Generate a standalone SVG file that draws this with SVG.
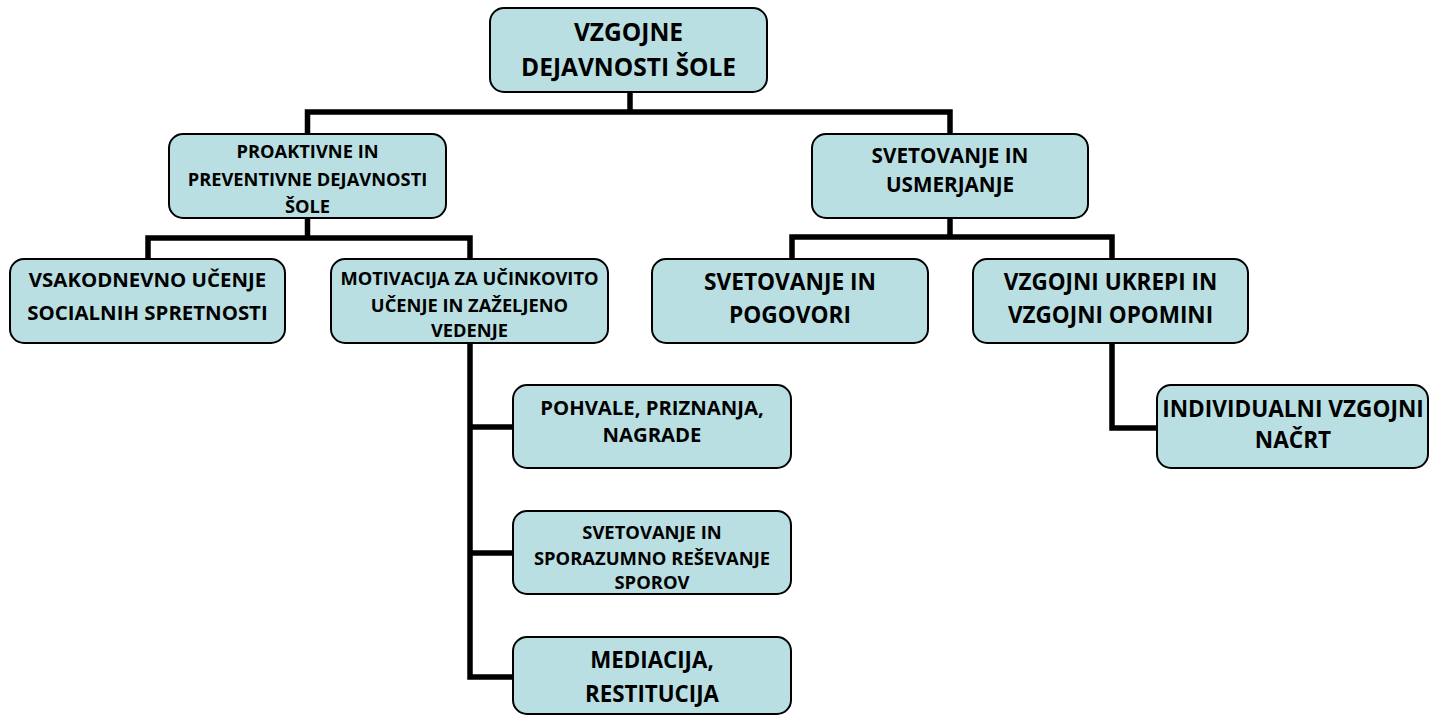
<svg xmlns="http://www.w3.org/2000/svg" width="1429" height="716" viewBox="0 0 1429 716">
<style>
.box{fill:#b9dfe2;stroke:#000;stroke-width:2}
.t{font-family:"Open Sans","Liberation Sans",sans-serif;font-weight:bold;fill:#000;text-anchor:middle}
.c{fill:none;stroke:#000;stroke-width:5.5;stroke-linejoin:miter}
</style>
<rect width="1429" height="716" fill="#fff"/>
<g id="connectors">
<path class="c" d="M630 92 V112"/>
<path class="c" d="M307.5 134 V112 H950 V134"/>
<path class="c" d="M307.5 218 V238"/>
<path class="c" d="M148 259 V238 H470 V259"/>
<path class="c" d="M950 218 V237"/>
<path class="c" d="M792 259 V237 H1112 V259"/>
<path class="c" d="M1112 343 V428 H1157"/>
<path class="c" d="M470 343 V677 H513"/>
<path class="c" d="M470 427 H513"/>
<path class="c" d="M470 553 H513"/>
</g>
<g id="n-root">
<rect class="box" x="490" y="8" width="277" height="84" rx="14"/>
<text class="t" font-size="24.5" x="628.5" y="41">VZGOJNE</text>
<text class="t" font-size="24.5" x="628.5" y="76">DEJAVNOSTI ŠOLE</text>
</g>
<g id="n-proaktivne">
<rect class="box" x="169" y="134" width="277" height="84" rx="14"/>
<text class="t" font-size="18.3" x="307.5" y="158">PROAKTIVNE IN</text>
<text class="t" font-size="18.3" x="307.5" y="186">PREVENTIVNE DEJAVNOSTI</text>
<text class="t" font-size="18.3" x="307.5" y="213">ŠOLE</text>
</g>
<g id="n-svetovanje-usmerjanje">
<rect class="box" x="812" y="134" width="276" height="84" rx="14"/>
<text class="t" font-size="20.7" x="950" y="163">SVETOVANJE IN</text>
<text class="t" font-size="20.7" x="950" y="192">USMERJANJE</text>
</g>
<g id="n-vsakodnevno">
<rect class="box" x="10" y="259" width="275" height="84" rx="14"/>
<text class="t" font-size="20.4" x="147.5" y="287">VSAKODNEVNO UČENJE</text>
<text class="t" font-size="20.4" x="147.5" y="320">SOCIALNIH SPRETNOSTI</text>
</g>
<g id="n-motivacija">
<rect class="box" x="331" y="259" width="277" height="84" rx="14"/>
<text class="t" font-size="18.3" x="469.5" y="285">MOTIVACIJA ZA UČINKOVITO</text>
<text class="t" font-size="18.3" x="469.5" y="312">UČENJE IN ZAŽELJENO</text>
<text class="t" font-size="18.3" x="469.5" y="337">VEDENJE</text>
</g>
<g id="n-svetovanje-pogovori">
<rect class="box" x="652" y="259" width="276" height="84" rx="14"/>
<text class="t" font-size="22.7" x="790" y="290">SVETOVANJE IN</text>
<text class="t" font-size="22.7" x="790" y="323">POGOVORI</text>
</g>
<g id="n-vzgojni-ukrepi">
<rect class="box" x="973" y="259" width="275" height="84" rx="14"/>
<text class="t" font-size="22.5" x="1110.5" y="290">VZGOJNI UKREPI IN</text>
<text class="t" font-size="22.5" x="1110.5" y="323">VZGOJNI OPOMINI</text>
</g>
<g id="n-individualni">
<rect class="box" x="1157" y="385" width="271" height="83" rx="14"/>
<text class="t" font-size="22.6" x="1293" y="417">INDIVIDUALNI VZGOJNI</text>
<text class="t" font-size="22.6" x="1293" y="448">NAČRT</text>
</g>
<g id="n-pohvale">
<rect class="box" x="513" y="385" width="278" height="83" rx="14"/>
<text class="t" font-size="20.3" x="652" y="415">POHVALE, PRIZNANJA,</text>
<text class="t" font-size="20.3" x="652" y="442">NAGRADE</text>
</g>
<g id="n-sporazumno">
<rect class="box" x="513" y="511" width="278" height="83" rx="14"/>
<text class="t" font-size="18.4" x="652" y="539">SVETOVANJE IN</text>
<text class="t" font-size="18.4" x="652" y="565">SPORAZUMNO REŠEVANJE</text>
<text class="t" font-size="18.4" x="652" y="589">SPOROV</text>
</g>
<g id="n-mediacija">
<rect class="box" x="513" y="637" width="278" height="77" rx="14"/>
<text class="t" font-size="22.3" x="652" y="668">MEDIACIJA,</text>
<text class="t" font-size="22.3" x="652" y="702">RESTITUCIJA</text>
</g>
</svg>
